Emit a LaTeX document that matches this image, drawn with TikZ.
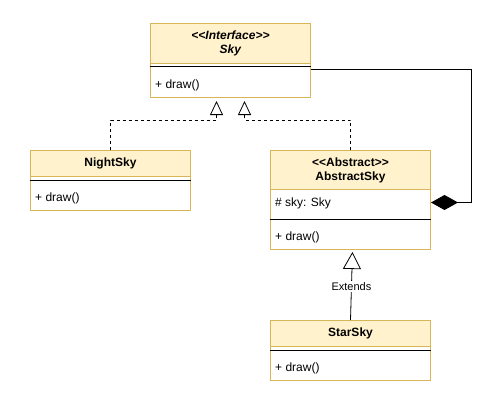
\documentclass[tikz,border=0pt]{standalone}
\usepackage{fontspec}
\setmainfont{Liberation Sans}
\usetikzlibrary{arrows.meta}
\definecolor{hdrfill}{HTML}{FFF2CC}
\definecolor{hdrline}{HTML}{D6B656}
\begin{document}
\begin{tikzpicture}[x=1pt,y=-1pt,
  classbox/.style={draw=hdrline, fill=white, rectangle, minimum width=160pt, anchor=north west, inner sep=0pt, line width=1pt},
  header/.style={draw=hdrline, fill=hdrfill, rectangle, minimum width=160pt, anchor=north west, inner sep=0pt, line width=1pt, align=center, font=\fontsize{12pt}{14pt}\selectfont\bfseries},
  member/.style={anchor=west, inner sep=0pt, font=\fontsize{12pt}{14pt}\selectfont},
  sepline/.style={black, line width=1pt},
  realize/.style={line width=0.8pt, dash pattern=on 3pt off 3pt, shorten >=3pt, -{Triangle[open, length=14pt, width=13pt]}},
  extend/.style={line width=0.8pt, shorten >=2pt, -{Triangle[open, length=17pt, width=18pt]}},
  comp/.style={line width=0.8pt, -{Diamond[length=27pt, width=15pt, fill=black]}},
  lbl/.style={fill=white, inner sep=1.5pt, font=\fontsize{11pt}{13pt}\selectfont}
]
\useasboundingbox[fill=white] (0,0) rectangle (497,401);

% Sky
\node[classbox, minimum height=74pt] (sky) at (150,23) {};
\node[header, minimum height=40pt] (skyh) at (sky.north west) {\textit{<\kern0pt<Interface>\kern0pt>}\\\textit{Sky}};
\draw[sepline] ([yshift=-44pt]sky.north west) -- ([yshift=-44pt]sky.north east);
\node[member] (skym) at ([xshift=5pt,yshift=-62pt]sky.north west) {+ draw()};

% NightSky
\node[classbox, minimum height=60pt] (night) at (30,150) {};
\node[header, minimum height=26pt] (nighth) at (night.north west) {NightSky};
\draw[sepline] ([yshift=-30pt]night.north west) -- ([yshift=-30pt]night.north east);
\node[member] (nightm) at ([xshift=5pt,yshift=-48pt]night.north west) {+ draw()};

% AbstractSky
\node[classbox, minimum height=99pt] (abs) at (270,150) {};
\node[header, minimum height=39pt] (absh) at (abs.north west) {<\kern0pt<Abstract>\kern0pt>\\AbstractSky};
\node[member] (absa) at ([xshift=5pt,yshift=-53pt]abs.north west) {\# sky: Sky};
\draw[sepline] ([yshift=-69pt]abs.north west) -- ([yshift=-69pt]abs.north east);
\node[member] (absm) at ([xshift=5pt,yshift=-87pt]abs.north west) {+ draw()};

% StarSky
\node[classbox, minimum height=60pt] (star) at (270,320) {};
\node[header, minimum height=26pt] (starh) at (star.north west) {StarSky};
\draw[sepline] ([yshift=-30pt]star.north west) -- ([yshift=-30pt]star.north east);
\node[member] (starm) at ([xshift=5pt,yshift=-48pt]star.north west) {+ draw()};

% connectors
\draw[realize] (night.north) -- ++(0,-30) -| ([xshift=-14pt]sky.south);
\draw[realize] (abs.north) -- ++(0,-30) -| ([xshift=14pt]sky.south);
\draw[extend] (star.north) -- ([xshift=2pt]abs.south) node[lbl, pos=0.48] {Extends};
\draw[comp] ([yshift=-9pt]sky.east) -- ++(160,0) |- ([yshift=-2.5pt]abs.east);
\end{tikzpicture}
\end{document}
